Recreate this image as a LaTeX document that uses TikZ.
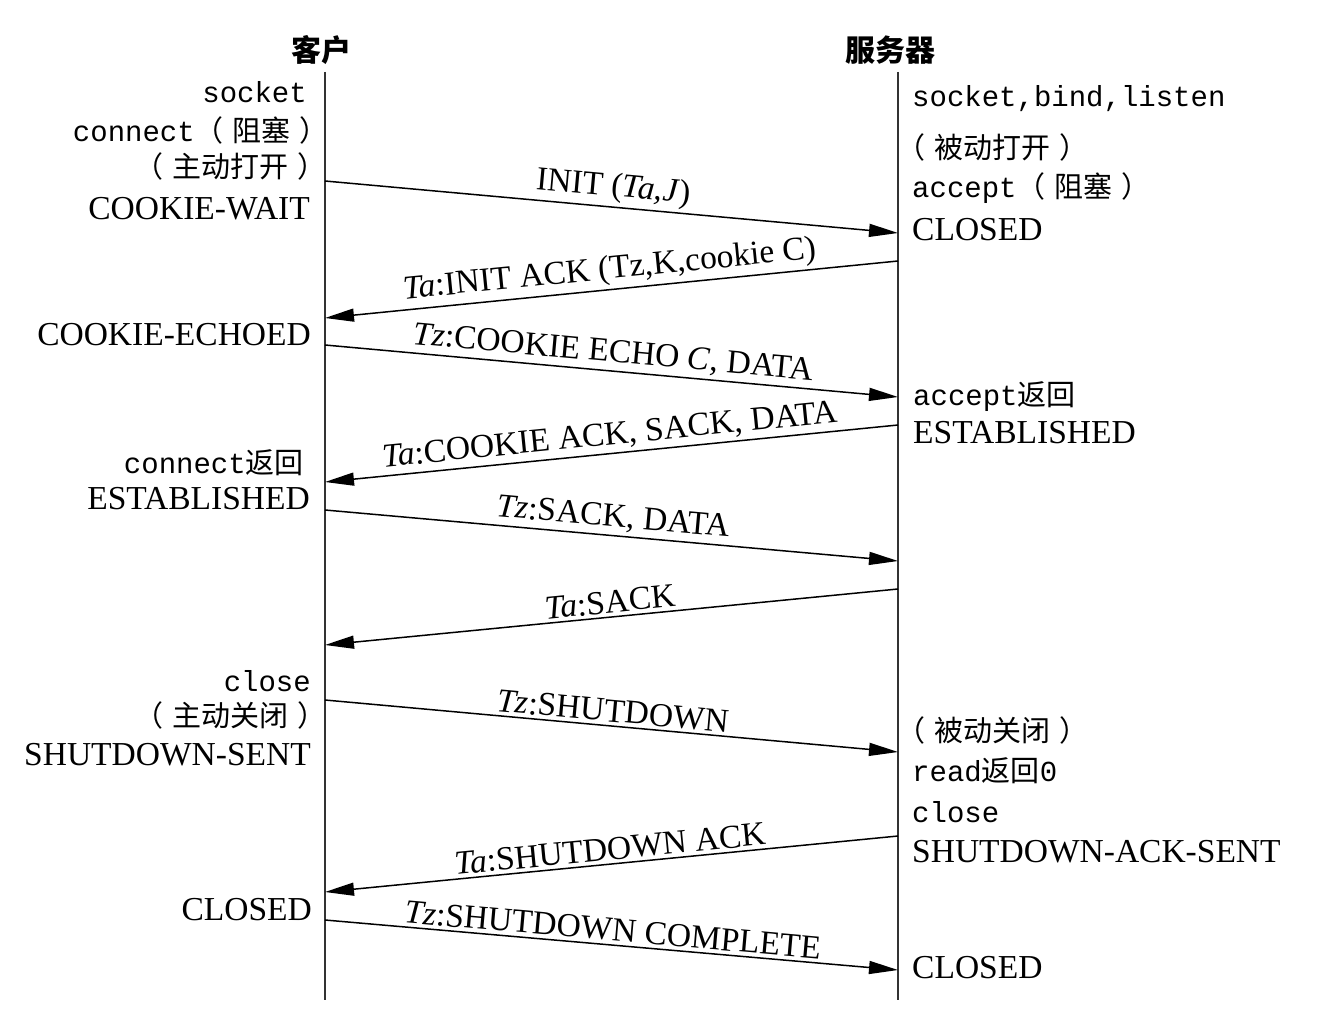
\documentclass[tikz,border=0pt]{standalone}
\usepackage{fontspec}
\setmainfont{Liberation Serif}
\setmonofont{Liberation Mono}
\newfontfamily\cjk{Noto Sans CJK SC}
\usetikzlibrary{arrows.meta}
\newcommand\mytt[1]{{\ttfamily\fontsize{29}{34}\selectfont #1}}
\newcommand\myzh[1]{{\cjk\fontsize{29}{34}\selectfont #1}}
\newcommand\zhlp{（\hspace{9pt}}
\newcommand\zhrp{\hspace{9pt}）}
\begin{document}
\begin{tikzpicture}[x=1pt,y=-1pt,
  lifeline/.style={line width=1.9pt, black!80},
  msg/.style={line width=1.5pt, -{Triangle[length=29pt,width=13pt]}},
  mlabel/.style={sloped, above, midway, inner sep=3pt, font=\fontsize{33.5}{38}\selectfont},
  lstate/.style={anchor=base east, inner sep=0pt, font=\fontsize{33.5}{38}\selectfont},
  rstate/.style={anchor=base west, inner sep=0pt, font=\fontsize{33.5}{38}\selectfont},
  hdr/.style={inner sep=0pt, font=\cjk\bfseries\fontsize{30}{35}\selectfont}
]
\useasboundingbox (0,0) rectangle (1322,1022);
\fill[white] (0,0) rectangle (1322,1022);

% headers
\node[hdr] (hc) at (321,50) {客户};
\node[hdr] (hs) at (890,50) {服务器};

% lifelines
\coordinate (ctop) at (325,72);
\coordinate (cbot) at (325,1000);
\coordinate (stop) at (898,72);
\coordinate (sbot) at (898,1000);
\draw[lifeline] (ctop) -- (cbot);
\draw[lifeline] (stop) -- (sbot);

% message end points
\coordinate (c1) at (325,181);  \coordinate (s1) at (898,233);
\coordinate (s2) at (898,261);  \coordinate (c2) at (325,318);
\coordinate (c3) at (325,345);  \coordinate (s3) at (898,397);
\coordinate (s4) at (898,425);  \coordinate (c4) at (325,482);
\coordinate (c5) at (325,510);  \coordinate (s5) at (898,561);
\coordinate (s6) at (898,589);  \coordinate (c6) at (325,645);
\coordinate (c7) at (325,700);  \coordinate (s7) at (898,752);
\coordinate (s8) at (898,836);  \coordinate (c8) at (325,892);
\coordinate (c9) at (325,920);  \coordinate (s9) at (898,970);

% messages
\draw[msg] (c1) -- node[mlabel] (m1) {INIT (\textit{Ta,J})} (s1);
\draw[msg] (s2) -- node[mlabel] (m2) {\textit{Ta}:INIT ACK (Tz,K,cookie C)} (c2);
\draw[msg] (c3) -- node[mlabel] (m3) {\textit{Tz}:COOKIE ECHO \textit{C}, DATA} (s3);
\draw[msg] (s4) -- node[mlabel] (m4) {\textit{Ta}:COOKIE ACK, SACK, DATA} (c4);
\draw[msg] (c5) -- node[mlabel] (m5) {\textit{Tz}:SACK, DATA} (s5);
\draw[msg] (s6) -- node[mlabel] (m6) {\textit{Ta}:SACK} (c6);
\draw[msg] (c7) -- node[mlabel] (m7) {\textit{Tz}:SHUTDOWN} (s7);
\draw[msg] (s8) -- node[mlabel] (m8) {\textit{Ta}:SHUTDOWN ACK} (c8);
\draw[msg] (c9) -- node[mlabel] (m9) {\textit{Tz}:SHUTDOWN COMPLETE} (s9);

% client side labels
\node[lstate] (l1) at (307,103) {\mytt{socket}};
\node[lstate] (l2) at (329,142) {\mytt{connect}\myzh{\zhlp 阻塞\zhrp}};
\node[lstate] (l3) at (327,177) {\myzh{\zhlp 主动打开\zhrp}};
\node[lstate] (l4) at (310,219) {COOKIE-WAIT};
\node[lstate] (l5) at (311,345) {COOKIE-ECHOED};
\node[lstate] (l6) at (304,473) {\mytt{connect}\myzh{返回}};
\node[lstate] (l7) at (310,509) {ESTABLISHED};
\node[lstate] (l8) at (311,691) {\mytt{close}};
\node[lstate] (l9) at (327,726) {\myzh{\zhlp 主动关闭\zhrp}};
\node[lstate] (l10) at (311,765) {SHUTDOWN-SENT};
\node[lstate] (l11) at (312,920) {CLOSED};

% server side labels
\node[rstate] (r1) at (912,107) {\mytt{socket,bind,listen}};
\node[rstate] (r2) at (896,158) {\myzh{\zhlp 被动打开\zhrp}};
\node[rstate] (r3) at (912,197) {\mytt{accept}\myzh{\zhlp 阻塞\zhrp}};
\node[rstate] (r4) at (912,240) {CLOSED};
\node[rstate] (r5) at (913,405) {\mytt{accept}\myzh{返回}};
\node[rstate] (r6) at (913,443) {ESTABLISHED};
\node[rstate] (r7) at (896,741) {\myzh{\zhlp 被动关闭\zhrp}};
\node[rstate] (r8) at (912,781) {\mytt{read}\myzh{返回}\mytt{0}};
\node[rstate] (r9) at (912,822) {\mytt{close}};
\node[rstate] (r10) at (912,862) {SHUTDOWN-ACK-SENT};
\node[rstate] (r11) at (912,978) {CLOSED};
\end{tikzpicture}
\end{document}
